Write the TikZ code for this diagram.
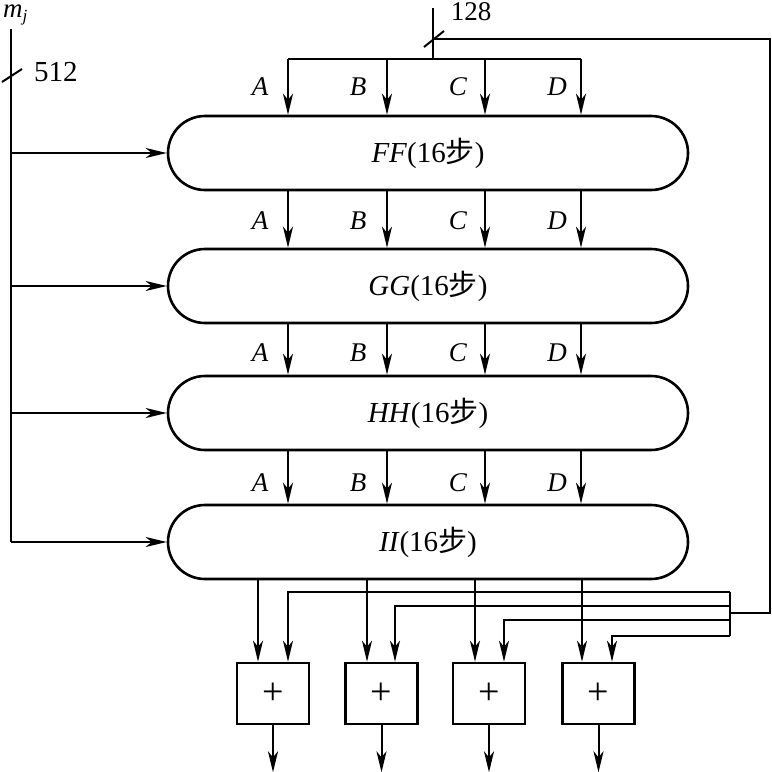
\documentclass[tikz,border=0pt]{standalone}
\usepackage{fontspec}
\setmainfont{Liberation Serif}
\newfontfamily\cjk{Noto Sans CJK SC}
\usetikzlibrary{arrows.meta}
\begin{document}
\begin{tikzpicture}[x=1pt,y=-1pt,
  every node/.style={font=\fontsize{27}{29}\selectfont, inner sep=0pt},
  ln/.style={line width=2pt},
  arr/.style={ln, -{Stealth[length=21pt,width=10pt,inset=6pt]}},
  pill/.style={draw, line width=2.6pt, minimum width=520pt, minimum height=74pt, rounded corners=37pt, font=\fontsize{29}{31}\selectfont},
  addbox/.style={draw, line width=2.6pt, minimum width=72pt, minimum height=61pt, font=\fontsize{38}{40}\selectfont},
  lbl/.style={font=\fontsize{27}{29}\selectfont\itshape}]
\useasboundingbox (0,0) rectangle (772,772);

% pills
\node[pill] (ff) at (428,153) {\textit{FF}(16{\cjk 步})};
\node[pill] (gg) at (428,286) {\textit{GG}(16{\cjk 步})};
\node[pill] (hh) at (428,413) {\textit{HH}(16{\cjk 步})};
\node[pill] (ii) at (428,542) {\textit{II}(16{\cjk 步})};

% column positions
\coordinate (cA) at (288,59);
\coordinate (cB) at (387,59);
\coordinate (cC) at (485,59);
\coordinate (cD) at (581,59);

% top input 128
\coordinate (tin) at (433,8);
\coordinate (tj) at (433,59);
\coordinate (fbj) at (433,39);
\draw[ln] (tin) -- (tj);
\draw[ln] (cA) -- (cD);
\draw[ln] (424,47) -- (444,31);
\node (n128) at (471,12) {128};

\foreach \c in {cA,cB,cC,cD} {
  \draw[arr] (\c) -- (\c |- ff.north);
  \draw[arr] (\c |- ff.south) -- (\c |- gg.north);
  \draw[arr] (\c |- gg.south) -- (\c |- hh.north);
  \draw[arr] (\c |- hh.south) -- (\c |- ii.north);
}

% labels A B C D
\foreach \y in {87,221,353,483} {
  \node[lbl] at (260,\y) {A};
  \node[lbl] at (358,\y) {B};
  \node[lbl] at (458,\y) {C};
  \node[lbl] at (557,\y) {D};
}

% left message input
\node[anchor=north west] (mj) at (3,5) {\textit{m}\raisebox{-0.3ex}{\fontsize{17}{18}\selectfont\textit{j}}};
\coordinate (mtop) at (11,29);
\draw[ln] (mtop) -- (mtop |- ii.west);
\draw[ln] (2,82) -- (22,69);
\node[font=\fontsize{29}{31}\selectfont] (n512) at (56,72) {512};
\foreach \p in {ff,gg,hh,ii} {
  \draw[arr] (mtop |- \p.west) -- (\p.west);
}

% adder boxes
\node[addbox] (p1) at (273,693.5) {+};
\node[addbox] (p2) at (381.5,693.5) {+};
\node[addbox] (p3) at (489,693.5) {+};
\node[addbox] (p4) at (598.5,693.5) {+};

% feedback path
\coordinate (fr1) at (770,39);
\coordinate (fr2) at (770,613);
\coordinate (bj) at (730,613);
\coordinate (b1) at (730,592);
\coordinate (b2) at (730,606);
\coordinate (b3) at (730,620);
\coordinate (b4) at (730,636);
\draw[ln] (fbj) -- (fr1) -- (fr2) -- (bj);
\draw[ln] (b1) -- (b4);

% outputs of II into adders
\draw[arr] ([xshift=-15pt]p1.north |- ii.south) -- ([xshift=-15pt]p1.north);
\draw[arr] ([xshift=-14.5pt]p2.north |- ii.south) -- ([xshift=-14.5pt]p2.north);
\draw[arr] ([xshift=-14pt]p3.north |- ii.south) -- ([xshift=-14pt]p3.north);
\draw[arr] ([xshift=-16.5pt]p4.north |- ii.south) -- ([xshift=-16.5pt]p4.north);

% feedback into adders
\draw[arr] (b1) -| ([xshift=15pt]p1.north);
\draw[arr] (b2) -| ([xshift=13.5pt]p2.north);
\draw[arr] (b3) -| ([xshift=15pt]p3.north);
\draw[arr] (b4) -| ([xshift=13.5pt]p4.north);

% outputs
\foreach \p in {p1,p2,p3,p4} {
  \coordinate (o\p) at ([yshift=-47pt]\p.south);
  \draw[arr] (\p.south) -- (o\p);
}
\end{tikzpicture}
\end{document}
